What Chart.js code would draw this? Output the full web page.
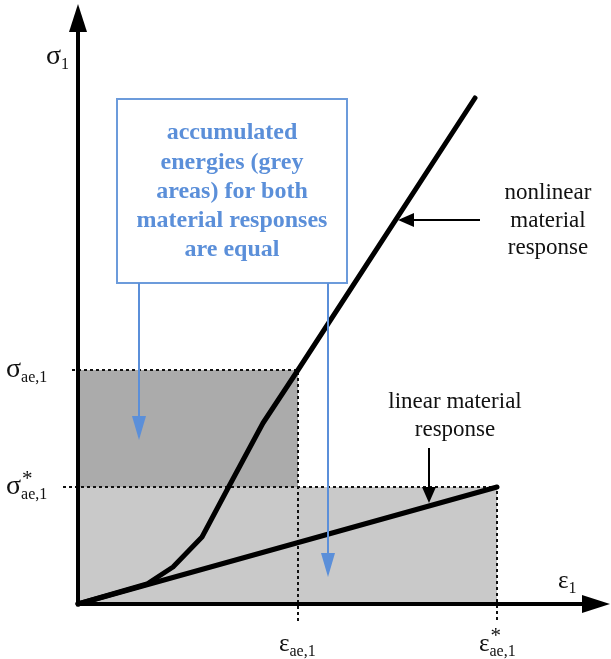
<!DOCTYPE html>
<html>
<head>
<meta charset="utf-8">
<script src="https://cdn.jsdelivr.net/npm/chart.js@4"></script>
<style>
  body { margin: 0; background: #fff; }
  canvas { display: block; }
</style>
</head>
<body>
<canvas id="chart" width="611" height="659"></canvas>
<script>
// schematic units: strain along x, stress along y
const nonlinearX = [0, 69, 95, 124, 149, 185, 220, 397];
const nonlinearY = [0, 20, 37, 67, 114, 181, 234, 506];
const linearX = [0, 419];
const linearY = [0, 117];

const epsAe = 220, sigmaAe = 234;          // nonlinear response point
const epsAeStar = 419, sigmaAeStar = 117;  // linear response point

const xMax = 533, yMax = 604;

const boxLines = ['accumulated', 'energies (grey', 'areas) for both', 'material responses', 'are equal'];
const nonlinearLabel = ['nonlinear', 'material', 'response'];
const linearLabel = ['linear material', 'response'];

const BLUE = '#5b8fd9';
const SERIF = '"Liberation Serif", "DejaVu Serif", serif';

function pts(xs, ys) {
    return xs.map((x, i) => ({ x: x, y: ys[i] }));
}

function arrowHead(ctx, x, y, angle, len, half, color) {
    ctx.save();
    ctx.translate(x, y);
    ctx.rotate(angle);
    ctx.fillStyle = color;
    ctx.beginPath();
    ctx.moveTo(0, 0);
    ctx.lineTo(-len, -half);
    ctx.lineTo(-len, half);
    ctx.closePath();
    ctx.fill();
    ctx.restore();
}

function symbol(ctx, x, y, main, sub, star, size) {
    ctx.fillStyle = '#111';
    ctx.textAlign = 'left';
    ctx.textBaseline = 'alphabetic';
    ctx.font = size + 'px ' + SERIF;
    ctx.fillText(main, x, y);
    const w = ctx.measureText(main).width;
    if (star) {
        ctx.font = '21px ' + SERIF;
        ctx.fillText('*', x + w + 1, y - 9);
    }
    ctx.font = '16px ' + SERIF;
    ctx.fillText(sub, x + w, y + 5);
}

const decorations = {
    id: 'decorations',
    afterDatasetsDraw(chart) {
        const ctx = chart.ctx;
        const sx = chart.scales.x, sy = chart.scales.y;
        const X = v => sx.getPixelForValue(v);
        const Y = v => sy.getPixelForValue(v);

        // axes
        ctx.save();
        ctx.strokeStyle = '#000';
        ctx.lineWidth = 4;
        ctx.beginPath();
        ctx.moveTo(X(0), Y(0) + 2);
        ctx.lineTo(X(0), Y(yMax - 30));
        ctx.moveTo(X(0) - 2, Y(0));
        ctx.lineTo(X(xMax - 28), Y(0));
        ctx.stroke();
        arrowHead(ctx, X(0), Y(yMax - 4), -Math.PI / 2, 28, 9, '#000');
        arrowHead(ctx, X(xMax - 1), Y(0), 0, 28, 9, '#000');

        // blue callout box
        ctx.strokeStyle = '#6c9bdb';
        ctx.lineWidth = 2;
        ctx.strokeRect(X(39), Y(505), X(269) - X(39), Y(321) - Y(505));
        ctx.strokeStyle = BLUE;
        ctx.beginPath();
        ctx.moveTo(X(61), Y(321));
        ctx.lineTo(X(61), Y(185));
        ctx.moveTo(X(250), Y(321));
        ctx.lineTo(X(250), Y(48));
        ctx.stroke();
        arrowHead(ctx, X(61), Y(164), Math.PI / 2, 24, 7, BLUE);
        arrowHead(ctx, X(250), Y(27), Math.PI / 2, 24, 7, BLUE);

        ctx.fillStyle = BLUE;
        ctx.font = 'bold 24px ' + SERIF;
        ctx.textAlign = 'center';
        ctx.textBaseline = 'middle';
        boxLines.forEach((t, i) => ctx.fillText(t, X(154), Y(471) + i * 29.3));

        // pointer arrows
        ctx.strokeStyle = '#000';
        ctx.lineWidth = 2;
        ctx.beginPath();
        ctx.moveTo(X(402), Y(384));
        ctx.lineTo(X(335), Y(384));
        ctx.moveTo(X(351), Y(156));
        ctx.lineTo(X(351), Y(116));
        ctx.stroke();
        arrowHead(ctx, X(320), Y(384), Math.PI, 16, 7, '#000');
        arrowHead(ctx, X(351), Y(101), Math.PI / 2, 16, 7, '#000');

        ctx.fillStyle = '#111';
        ctx.font = '23px ' + SERIF;
        nonlinearLabel.forEach((t, i) => ctx.fillText(t, X(470), Y(411) + i * 27.5));
        linearLabel.forEach((t, i) => ctx.fillText(t, X(377), Y(202) + i * 28));

        // axis symbols
        symbol(ctx, X(-32), Y(540), '\u03c3', '1', false, 28);
        symbol(ctx, X(-72), Y(sigmaAe) + 7, '\u03c3', 'ae,1', false, 28);
        symbol(ctx, X(-72), Y(sigmaAeStar) + 7, '\u03c3', 'ae,1', true, 28);
        symbol(ctx, X(epsAe) - 19, Y(0) + 47, '\u03b5', 'ae,1', false, 25);
        symbol(ctx, X(epsAeStar) - 18, Y(0) + 47, '\u03b5', 'ae,1', true, 25);
        symbol(ctx, X(480), Y(0) - 16, '\u03b5', '1', false, 25);
        ctx.restore();
    }
};

const dashed = { borderColor: '#111', borderWidth: 2, borderDash: [3, 3], pointRadius: 0, showLine: true, fill: false, clip: false };

new Chart(document.getElementById('chart'), {
    type: 'scatter',
    data: {
        datasets: [
            { data: pts([0, epsAeStar], [sigmaAeStar, sigmaAeStar]), showLine: true, pointRadius: 0, borderWidth: 0,
              backgroundColor: '#c9c9c9', fill: 'origin', order: 10 },
            { data: pts([0, epsAe], [sigmaAe, sigmaAe]), showLine: true, pointRadius: 0, borderWidth: 0,
              backgroundColor: '#ababab', fill: { value: sigmaAeStar }, order: 9 },
            Object.assign({ data: pts([-6, epsAe, epsAe], [sigmaAe, sigmaAe, -18]), order: 5 }, dashed),
            Object.assign({ data: pts([-15, epsAeStar, epsAeStar], [sigmaAeStar, sigmaAeStar, -18]), order: 5 }, dashed),
            { data: pts(linearX, linearY), showLine: true, pointRadius: 0, borderColor: '#000', borderWidth: 5,
              borderCapStyle: 'round', fill: false, clip: false, order: 1 },
            { data: pts(nonlinearX, nonlinearY), showLine: true, pointRadius: 0, borderColor: '#000', borderWidth: 5,
              borderJoinStyle: 'round', borderCapStyle: 'round', fill: false, clip: false, order: 1 }
        ]
    },
    options: {
        responsive: false,
        animation: false,
        layout: { padding: { left: 78, right: 0, top: 0, bottom: 55 } },
        plugins: { legend: { display: false }, tooltip: { enabled: false } },
        scales: {
            x: { type: 'linear', min: 0, max: xMax, display: false },
            y: { type: 'linear', min: 0, max: yMax, display: false }
        }
    },
    plugins: [decorations]
});
</script>
</body>
</html>
